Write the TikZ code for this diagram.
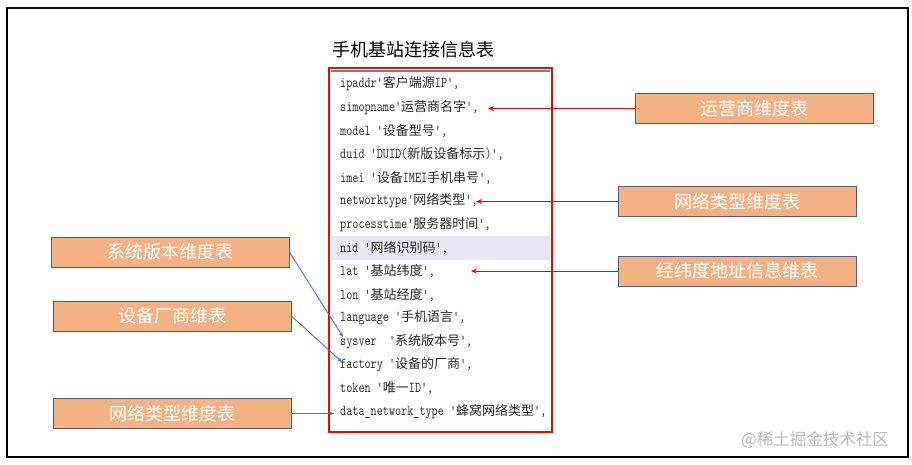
\documentclass[tikz,border=0pt]{standalone}
\usepackage{fontspec}
\setmonofont{Latin Modern Mono}[FakeStretch=0.79]
\newfontfamily\cjkf{Noto Sans CJK SC}
\usetikzlibrary{arrows.meta}
\definecolor{boxfill}{RGB}{244,177,131}
\definecolor{boxline}{RGB}{80,92,120}
\definecolor{blueline}{RGB}{68,114,196}
\definecolor{bandcol}{RGB}{230,230,246}
\newcommand\cj[1]{{\cjkf\fontsize{13}{14}\selectfont #1}}
\tikzset{
  dimbox/.style={draw=boxline, line width=0.8pt, fill=boxfill, minimum width=238pt, minimum height=30pt, inner sep=0pt, text=white, font=\cjkf\fontsize{18}{20}\selectfont},
  codeline/.style={anchor=west, inner sep=0pt, text=black!85, font=\fontsize{15}{16}\selectfont\ttfamily},
  redarrow/.style={draw=red, line width=0.9pt, -{Stealth[length=6pt,width=5pt]}},
  bluearrow/.style={draw=blueline, line width=0.9pt, -{Stealth[length=5pt,width=4pt]}},
}
\begin{document}
\begin{tikzpicture}[x=1pt,y=-1pt]
\useasboundingbox (0,0) rectangle (912,465);
% outer frame
\draw[line width=2pt] (7,8) rectangle (908,457);
% title
\node[font=\cjkf\fontsize{18}{20}\selectfont] (title) at (413,50) {手机基站连接信息表};
% highlight band
\fill[bandcol] (331,236) rectangle (551,260);
% code lines
\node[codeline] (l1) at (340,84) {ipaddr'\cj{客户端源}IP',};
\node[codeline] (l2) at (340,107.4) {simopname'\cj{运营商名字}',};
\node[codeline] (l3) at (340,130.8) {model '\cj{设备型号}',};
\node[codeline] (l4) at (340,154.2) {duid 'DUID(\cj{新版设备标示})',};
\node[codeline] (l5) at (340,177.6) {imei '\cj{设备}IMEI\cj{手机串号}',};
\node[codeline] (l6) at (340,201) {networktype'\cj{网络类型}',};
\node[codeline] (l7) at (340,224.4) {processtime'\cj{服务器时间}',};
\node[codeline] (l8) at (340,247.8) {nid '\cj{网络识别码}',};
\node[codeline] (l9) at (340,271.2) {lat '\cj{基站纬度}',};
\node[codeline] (l10) at (340,294.6) {lon '\cj{基站经度}',};
\node[codeline] (l11) at (340,318) {language '\cj{手机语言}',};
\node[codeline] (l12) at (340,341.4) {sysver~~'\cj{系统版本号}',};
\node[codeline] (l13) at (340,364.8) {factory '\cj{设备的厂商}',};
\node[codeline] (l14) at (340,388.2) {token '\cj{唯一}ID',};
\node[codeline] (l15) at (340,411.6) {data\_network\_type '\cj{蜂窝网络类型}',};
% table frame
\draw[red, line width=2.8pt] (329,68) rectangle (552,432);
\draw[gray, line width=2pt] (331,71) -- (550,71);
% dimension boxes
\node[dimbox] (op) at (754,108.5) {运营商维度表};
\node[dimbox] (netr) at (737.5,201.5) {网络类型维度表};
\node[dimbox] (geo) at (737.5,271) {经纬度地址信息维表};
\node[dimbox] (sys) at (170,252) {系统版本维度表};
\node[dimbox] (fac) at (172,316) {设备厂商维表};
\node[dimbox] (netl) at (172,413.5) {网络类型维度表};
% arrow targets
\coordinate (t1) at (488,108.5);
\coordinate (t2) at (476,201.5);
\coordinate (t3) at (471,271);
\coordinate (t4) at (343,337);
\coordinate (t5) at (342,362);
\coordinate (t6) at (334,413.5);
% arrows
\draw[redarrow] (op.west) -- (t1);
\draw[redarrow] (netr.west) -- (t2);
\draw[redarrow] (geo.west) -- (t3);
\draw[bluearrow] (sys.east) -- (t4);
\draw[bluearrow] (fac.east) -- (t5);
\draw[bluearrow] (netl.east) -- (t6);
% watermark
\node[text=gray!55, font=\cjkf\fontsize{16.5}{18}\selectfont] (wm) at (815,440) {@稀土掘金技术社区};
\end{tikzpicture}
\end{document}
